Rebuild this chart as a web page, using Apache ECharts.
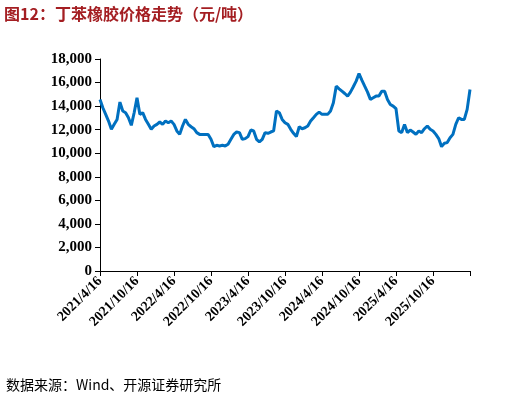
<!DOCTYPE html><html><head><meta charset="utf-8"><script src="https://cdn.jsdelivr.net/npm/echarts@6/dist/echarts.min.js"></script>
<style>body{margin:0}#c{width:522px;height:405px}</style></head><body><div id="c"></div><script>
const startDate = '2021-04-16';
const tickLabels = ['2021/4/16','2021/10/16','2022/4/16','2022/10/16','2023/4/16','2023/10/16','2024/4/16','2024/10/16','2025/4/16','2025/10/16'];
const values = [14570,13860,13300,12730,12030,12450,12870,14340,13580,13440,13010,12370,13440,14700,13300,13440,12870,12450,12030,12310,12450,12650,12450,12730,12590,12730,12450,11890,11600,12310,12870,12450,12250,12080,11750,11600,11600,11600,11600,11180,10560,10670,10620,10670,10620,10760,11180,11600,11800,11750,11180,11240,11410,11970,11890,11180,10960,11180,11750,11690,11800,11890,13580,13440,12870,12590,12450,12030,11690,11410,12250,12080,12160,12310,12730,13010,13300,13490,13300,13300,13300,13580,14280,15690,15470,15270,15070,14850,15190,15640,16120,16770,16200,15690,15190,14570,14710,14850,14850,15270,15270,14570,14140,14000,13780,11890,11750,12450,11750,11970,11800,11600,11890,11750,12080,12310,12030,11890,11600,11240,10560,10840,10900,11320,11600,12450,13010,12870,12870,13720,15410];
const cats = values.map((_, i) => { const d = new Date(startDate); d.setDate(d.getDate() + 14 * i); return d.toISOString().slice(0,10); });
const ch = echarts.init(document.getElementById('c'));
ch.setOption({
  animation:false,
  graphic:[
    {type:'text',left:4,top:6,style:{text:'图12：丁苯橡胶价格走势（元/吨）',font:'bold 16px "Noto Sans CJK SC"',fill:'#A41E22'}},
    {type:'text',left:6,top:378,style:{text:'数据来源：Wind、开源证券研究所',font:'14px "Noto Sans CJK SC"',fill:'#000'}}
  ],
  grid:{left:100,right:52,top:59,bottom:134},
  xAxis:{type:'category',data:cats,boundaryGap:false,
    axisLine:{lineStyle:{color:'#000'}},
    axisTick:{interval:12,alignWithLabel:true,lineStyle:{color:'#000'}},
    axisLabel:{interval:12,rotate:45,color:'#000',fontFamily:'Liberation Serif',fontWeight:'bold',fontSize:14,
      formatter:(v,i)=>tickLabels[Math.round(i/13)]||''}},
  yAxis:{type:'value',min:0,max:18000,interval:2000,splitLine:{show:false},
    axisLine:{show:true,lineStyle:{color:'#000'}},axisTick:{show:true,lineStyle:{color:'#000'}},
    axisLabel:{color:'#000',fontFamily:'Liberation Serif',fontWeight:'bold',fontSize:15,formatter:v=>v.toLocaleString('en-US')}},
  series:[{type:'line',data:values,showSymbol:false,lineStyle:{color:'#0070C0',width:3},itemStyle:{color:'#0070C0'}}]
});
</script></body></html>
